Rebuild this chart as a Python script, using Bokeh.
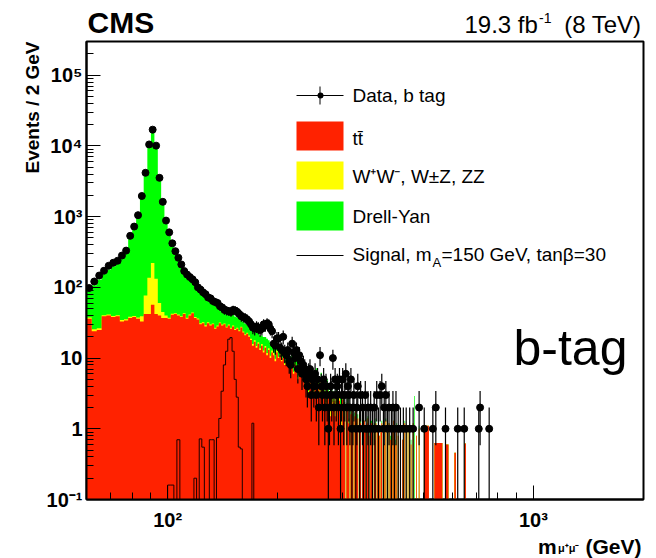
import math
import numpy as np
from bokeh.plotting import figure
from bokeh.layouts import row, column
from bokeh.models import Range1d, FixedTicker, Label, BoxAnnotation, Arrow
from bokeh.embed import file_html
from bokeh.resources import INLINE

# ---------------------------------------------------------------------------
# Dimuon invariant mass, b-tag category: 2 GeV bins starting at 60 GeV
# ---------------------------------------------------------------------------
BIN_W = 2
M_LO = 60
M_HI = 800

# observed events per bin, bins 60-62 ... 298-300 GeV
data_counts = [
    98, 121, 147, 172, 202, 223, 238, 282, 331, 535,
    724, 1050, 1960, 4170, 10500, 17000, 10100, 3540, 1620, 880,
    600, 420, 325, 262, 211, 170, 152, 140, 130, 118,
    100, 93, 85, 80, 72, 70, 64, 62, 60, 54,
    52, 48, 47, 46, 45, 48, 47, 45, 42, 39,
    38, 37, 35, 33, 30, 27, 26, 28, 27, 25,
    26, 30, 29, 31, 30, 26, 24, 16, 15, 19,
    19, 14, 13, 20, 12, 11, 13, 9, 8, 16,
    12, 10, 13, 7, 11, 9, 6, 8, 7, 5,
    4, 6, 7, 3, 5, 4, 6, 3, 5, 2,
    11, 4, 3, 5, 2, 4, 3, 1, 2, 4,
    3, 10, 2, 5, 3, 4, 2, 5, 1, 3,
]

# ttbar expectation, same bins
ttbar = [
    36, 24, 25, 39, 40, 38, 39, 33, 34, 37,
    38, 36, 33, 42, 42, 57, 42, 40, 37, 37,
    36, 41, 42, 40, 38, 42, 36, 40, 43, 37,
    35, 30, 31, 28, 31, 29, 30, 26, 28, 31,
    29, 30, 27, 29, 26, 28, 25, 26, 24, 27,
    23, 21, 22, 20, 18, 15, 17, 14, 16, 13,
    15, 12, 14, 11, 13, 10, 12, 11, 9, 12,
    10, 11, 9, 10, 8, 9, 11, 8, 7, 9,
    6, 8, 7, 5, 8, 6, 7, 5, 4, 6,
    5, 3, 6, 4, 5, 3, 4, 6, 3, 4,
    3, 5, 2, 4, 3, 2, 4, 3, 2, 1.5,
    3, 2, 2.5, 1.5, 3, 2, 1.2, 2.5, 1.8, 1,
]

# WW, WZ, ZZ expectation, same bins
diboson = [
    1.5, 1.5, 1.5, 1.5, 1.5, 1.5, 1.5, 1.5, 1.5, 1.5,
    1.5, 1.5, 6, 35, 95, 165, 90, 20, 8, 3,
    1.2, 1.2, 1.2, 1.2, 1.2, 1.2, 1.2, 1.2, 1.2, 1.2,
    1.2, 1.2, 1.2, 1.2, 1.2, 0.8, 0.8, 0.8, 0.8, 0.8,
    0.8, 0.8, 0.8, 0.8, 0.8, 0.8, 0.8, 0.8, 0.8, 0.8,
    0.8, 0.8, 0.8, 0.8, 0.8, 0.8, 0.8, 0.8, 0.8, 0.8,
    0.8, 0.8, 0.8, 0.8, 0.8, 0.8, 0.8, 0.8, 0.8, 0.8,
    0.4, 0.4, 0.4, 0.4, 0.4, 0.4, 0.4, 0.4, 0.4, 0.4,
    0.4, 0.4, 0.4, 0.4, 0.4, 0.4, 0.4, 0.4, 0.4, 0.4,
    0.4, 0.4, 0.4, 0.4, 0.4, 0.4, 0.4, 0.4, 0.4, 0.4,
    0.4, 0.4, 0.4, 0.4, 0.4, 0.4, 0.4, 0.4, 0.4, 0.4,
    0.4, 0.4, 0.4, 0.4, 0.4, 0.4, 0.4, 0.4, 0.4, 0.4,
]

# Drell-Yan expectation, same bins
drell_yan = [
    62, 82, 103, 114, 138, 160, 180, 225, 284, 461,
    660, 982, 1861, 4023, 10663, 17078, 10168, 3440, 1555, 830,
    553, 378, 277, 214, 166, 125, 111, 92, 78, 72,
    64, 61, 53, 49, 40, 37, 32, 32, 27, 21,
    20, 16, 17, 13, 15, 12, 13, 11, 11, 7,
    9, 9, 7, 8, 8, 9, 7, 8, 6, 7,
    5, 7, 5, 7, 4, 6, 4, 4, 5, 2,
    4, 3, 4, 3, 4, 3, 2, 3, 3, 2,
    3, 2, 2, 3, 1.5, 2, 1.5, 2, 2.5, 1.5,
    1.5, 2, 1, 1.5, 1, 1.5, 1, 0.8, 1.2, 1,
    1, 0.8, 1, 0.7, 0.8, 1, 0.6, 0.7, 0.8, 0.5,
    0.6, 0.7, 0.5, 0.6, 0.4, 0.5, 0.6, 0.3, 0.5, 0.4,
]

# high-mass tail (bin low edge in GeV) - only non-empty bins listed
tail_data_mass = [
    300, 302, 304, 306, 308, 310, 312, 314, 316, 318,
    320, 322, 326, 328, 330, 334, 336, 340, 342, 346,
    348, 352, 354, 358, 362, 366, 368, 372, 376, 380,
    384, 388, 390, 394, 398, 402, 408, 412, 416, 420,
    426, 432, 440, 448, 458, 468, 486, 502, 530, 540,
    574, 620, 646, 708, 714, 756,
]
tail_data_counts = [
    5, 2, 3, 6, 2, 4, 3, 2, 5, 1,
    2, 3, 1, 2, 4, 1, 3, 2, 1, 3,
    1, 2, 1, 2, 1, 2, 1, 3, 1, 3,
    4, 1, 2, 3, 1, 2, 1, 2, 1, 2,
    1, 1, 1, 1, 1, 1, 2, 1, 1, 2,
    1, 1, 1, 1, 2, 1,
]

tail_mc_mass = [
    300, 302, 304, 308, 310, 312, 316, 318, 320, 324,
    326, 328, 330, 334, 336, 340, 342, 344, 346, 350,
    352, 354, 358, 360, 362, 366, 368, 370, 374, 376,
    378, 382, 384, 388, 390, 394, 398, 402, 406, 410,
    414, 418, 422, 426, 432, 438, 444, 450, 456, 462,
    468, 472, 478, 486, 502, 504, 506, 508, 510, 512,
    514, 516, 536, 538, 540, 542, 544, 546, 548, 550,
    552, 554, 556, 558, 560, 562, 576, 578, 580, 582,
    584, 608, 610, 612, 648, 650, 652,
]
tail_ttbar = [
    2.6, 1.5, 2.1, 1.8, 2.3, 1.2, 1.6, 2.0, 1.3, 1.5,
    1.9, 1.0, 1.4, 1.6, 1.2, 1.1, 1.5, 1.3, 0.9, 1.2,
    1.4, 0.8, 1.1, 1.2, 0.9, 1.1, 0.7, 1.2, 0.9, 1.0,
    0.8, 0.9, 1.2, 1.0, 0.6, 1.3, 1.0, 1.2, 0.7, 0.9,
    1.3, 0.6, 1.1, 0.8, 1.3, 0.7, 1.2, 0.9, 1.1, 0.6,
    1.2, 0.0, 0.8, 1.0, 1.1, 1.1, 1.1, 1.1, 1.1, 1.1,
    1.1, 1.1, 0.63, 0.63, 0.63, 0.63, 0.63, 0.63, 0.63, 0.63,
    0.63, 0.63, 0.63, 0.63, 0.63, 0.63, 0.6, 0.6, 0.6, 0.6,
    0.6, 0.46, 0.46, 0.46, 0.62, 0.62, 0.62,
]
tail_dy = [
    0.4, 0.3, 0.3, 0.3, 0.4, 0.2, 0.3, 0.2, 0.3, 0.2,
    0.3, 0.2, 0.2, 0.2, 0.2, 0.3, 0.2, 0.0, 0.2, 0.2,
    0.1, 0.2, 0.2, 0.1, 0.0, 0.1, 0.1, 0.2, 0.1, 0.1,
    0.0, 0.2, 0.1, 0.1, 0.0, 0.1, 0.1, 0.0, 0.1, 0.1,
    0.0, 0.1, 0.1, 0.0, 0.1, 0.0, 0.1, 0.1, 0.0, 0.1,
    0.0, 2.9, 0.0, 0.1, 0.0, 0.0, 0.0, 0.0, 0.0, 0.0,
    0.0, 0.0, 0.0, 0.0, 0.0, 0.0, 0.0, 0.0, 0.0, 0.0,
    0.0, 0.0, 0.0, 0.0, 0.0, 0.0, 0.0, 0.0, 0.0, 0.0,
    0.0, 0.0, 0.0, 0.0, 0.0, 0.0, 0.0,
]

# signal (mA = 150 GeV, tan(beta) = 30), bins from 98 to 174 GeV
signal_first_bin = 98
signal_vals = [
    0, 0.16, 0.16, 0, 0.7, 0, 0, 0, 0, 0,
    0.2, 0, 0.72, 0.55, 0, 0, 0.7, 0.7, 0, 0.75,
    1.4, 3.4, 8, 12.5, 18.5, 19.5, 12.5, 5, 2.8, 0.55,
    0.52, 0, 0, 0, 0, 0, 1.2, 0,
]

x_major_ticks = [100, 1000]
x_tick_labels = ["10²", "10³"]
y_major_ticks = [0.1, 1, 10, 100, 1000, 10000, 100000]
y_tick_labels = ["10⁻¹", "1", "10", "10²", "10³", "10⁴", "10⁵"]

RED, YELLOW, GREEN = "#ff2200", "#ffff00", "#00ff00"
FONT = "Liberation Sans"
FLOOR = 1e-3  # below the visible range, stands in for empty bins on the log axis
MID = 0.35    # distance from baseline to the middle of the em box, in font sizes

# ---------------------------------------------------------------------------
n_bins = (M_HI - M_LO) // BIN_W
lows = M_LO + BIN_W * np.arange(n_bins)
edges = np.append(lows, M_HI)


def dense(main, tail_mass=(), tail_vals=()):
    out = np.zeros(n_bins)
    out[:len(main)] = main
    for m, v in zip(tail_mass, tail_vals):
        out[(m - M_LO) // BIN_W] = v
    return out


def step_y(v):
    y = np.where(np.asarray(v) > 0, v, FLOOR)
    return np.append(y, y[-1])


tt = dense(ttbar, tail_mc_mass, tail_ttbar)
vv = dense(diboson)
dy = dense(drell_yan, tail_mc_mass, tail_dy)
obs = dense(data_counts, tail_data_mass, tail_data_counts)

# page geometry (pixels): left strip, header strip, main plot, footer strip
W, H = 656, 558
LEFT_W = 43
TOP_H = 39
BOT_H = 22
MAIN_W = W - LEFT_W
MAIN_H = H - TOP_H - BOT_H
FL, FR, FT, FB = 83, 643, 41, 499  # frame edges in page pixels

p = figure(width=MAIN_W, height=MAIN_H, x_axis_type="log", y_axis_type="log",
           x_range=Range1d(60, 2000), y_range=Range1d(0.1, 3e5),
           output_backend="svg", toolbar_location=None, title=None,
           min_border_left=FL - LEFT_W, min_border_right=W - FR,
           min_border_top=FT - TOP_H, min_border_bottom=TOP_H + MAIN_H - FB)
p.background_fill_color = "white"
p.border_fill_color = "white"
p.outline_line_color = "black"
p.outline_line_width = 2
p.xgrid.visible = False
p.ygrid.visible = False

# stacked backgrounds, drawn back to front as cumulative sums
p.varea_step(x=edges, y1=FLOOR, y2=step_y(tt + vv + dy), step_mode="after", fill_color=GREEN)
p.varea_step(x=edges, y1=FLOOR, y2=step_y(tt + vv), step_mode="after", fill_color=YELLOW)
p.varea_step(x=edges, y1=FLOOR, y2=step_y(tt), step_mode="after", fill_color=RED)

# signal outline
sig = np.array(signal_vals, dtype=float)
sig_edges = signal_first_bin + BIN_W * np.arange(len(sig) + 1)
p.step(x=sig_edges, y=step_y(sig), mode="after", line_color="#1a0000", line_width=1)

# data with Poisson error bars
mask = obs > 0
xc = lows[mask] + BIN_W / 2
n = obs[mask]
err = np.sqrt(n)
p.segment(x0=xc, y0=np.maximum(n - err, FLOOR), x1=xc, y1=n + err, line_color="black", line_width=1.2)
p.segment(x0=xc - BIN_W / 2, y0=n, x1=xc + BIN_W / 2, y1=n, line_color="black", line_width=1.2)
p.scatter(x=xc, y=n, size=7, fill_color="black", line_color="black")

# axes
x_minor = [k * 10 ** d for d in (1, 2, 3) for k in range(2, 10) if 60 <= k * 10 ** d <= 2000]
y_minor = [k * 10.0 ** d for d in range(-1, 6) for k in range(2, 10) if k * 10.0 ** d <= 3e5]
p.xaxis[0].ticker = FixedTicker(ticks=x_major_ticks, minor_ticks=x_minor)
p.yaxis[0].ticker = FixedTicker(ticks=y_major_ticks, minor_ticks=y_minor)
p.xaxis[0].major_label_overrides = dict(zip(x_major_ticks, x_tick_labels))
p.yaxis[0].major_label_overrides = dict(zip(y_major_ticks, y_tick_labels))
for ax in (p.xaxis[0], p.yaxis[0]):
    ax.major_tick_in = 14
    ax.major_tick_out = 0
    ax.minor_tick_in = 7
    ax.minor_tick_out = 0
    ax.major_tick_line_color = "black"
    ax.minor_tick_line_color = "black"
    ax.axis_line_color = "black"
    ax.axis_line_width = 2
    ax.major_label_text_font = FONT
    ax.major_label_text_font_style = "bold"
    ax.major_label_text_font_size = "20px"
    ax.major_label_text_color = "black"
p.yaxis[0].major_label_standoff = 4
p.xaxis[0].major_label_standoff = 9


def text(t, x, y, size, style="normal", align="left"):
    """Text inside the plot frame; (x, y) = page pixel of the start of its baseline."""
    p.add_layout(Label(x=x - FL, y=FB - (y - MID * size), x_units="screen", y_units="screen",
                       text=t, text_font=FONT, text_font_size=f"{size}px",
                       text_font_style=style, text_align=align, text_baseline="middle",
                       text_color="black"))


def box(l, t, r, b, color, radius=0):
    p.add_layout(BoxAnnotation(left=l - FL, right=r - FL, top=FB - t, bottom=FB - b,
                               left_units="screen", right_units="screen",
                               top_units="screen", bottom_units="screen",
                               fill_color=color, fill_alpha=1.0, line_color=None,
                               border_radius=radius))


def seg(x0, y0, x1, y1):
    p.add_layout(Arrow(x_start=x0 - FL, y_start=FB - y0, x_end=x1 - FL, y_end=FB - y1,
                       start_units="screen", end_units="screen", end=None,
                       line_color="black", line_width=1))


def strip(width, height, x_lo, x_hi, border_left, border_right, y_top):
    """Bare canvas for text outside the frame; data units are page pixels
    (x across the frame's span x_lo..x_hi, y measured down from page y_top)."""
    s = figure(width=width, height=height,
               x_range=Range1d(x_lo, x_hi), y_range=Range1d(y_top + height, y_top),
               output_backend="svg", toolbar_location=None, title=None,
               x_axis_location=None, y_axis_location=None,
               min_border=0, min_border_left=border_left, min_border_right=border_right,
               min_border_top=0, min_border_bottom=0)
    s.outline_line_color = None
    s.background_fill_color = "white"
    s.border_fill_color = "white"
    s.xgrid.visible = False
    s.ygrid.visible = False
    return s


def strip_text(s, t, x, y, size, style="normal", align="left", vertical=False):
    """(x, y) = page pixel of the text baseline start (or end, when right aligned)."""
    if vertical:
        lx, ly, angle = x - MID * size, y, math.pi / 2
    else:
        lx, ly, angle = x, y - MID * size, 0.0
    s.add_layout(Label(x=lx, y=ly, text=t,
                       text_font=FONT, text_font_size=f"{size}px", text_font_style=style,
                       text_align=align, text_baseline="middle", angle=angle,
                       text_color="black"))


left = strip(LEFT_W, H, 0, LEFT_W, 0, 0, 0)
top = strip(MAIN_W, TOP_H, FL, FR, FL - LEFT_W, W - FR, 0)
bottom = strip(MAIN_W, BOT_H, FL, FR, FL - LEFT_W, W - FR, TOP_H + MAIN_H)

# header
strip_text(top, "CMS", 84, 32, 30, "bold")
strip_text(top, "19.3 fb", 463, 32, 24)
strip_text(top, "-1", 538, 22, 14)
strip_text(top, "(8 TeV)", 641, 32, 24, align="right")

# axis titles
strip_text(left, "Events / 2 GeV", 39, 41, 19, "bold", align="right", vertical=True)
strip_text(bottom, "m", 537, 553, 21, "bold")
strip_text(bottom, "μ⁺μ⁻", 557, 551, 11, "bold")
strip_text(bottom, "(GeV)", 641, 553, 21, "bold", align="right")

# category tag
text("b-tag", 510, 365, 50)

# legend
seg(293, 95, 340, 95)
seg(316.5, 86, 316.5, 104)
box(314, 92, 320, 98, "black", radius=3)
text("Data, b tag", 349, 102, 19)
box(293, 121, 340, 150, RED)
text("tt\u0304", 349, 145, 19)
box(293, 161, 340, 189, YELLOW)
text("W⁺W⁻, W±Z, ZZ", 349, 183, 19)
box(293, 201, 340, 230, GREEN)
text("Drell-Yan", 349, 223, 19)
seg(293, 255, 340, 255)
text("Signal, m", 349, 261, 19)
text("A", 429, 267, 13)
text("=150 GeV, tanβ=30", 438, 261, 19)

page = row(left, column(top, p, bottom, spacing=0), spacing=0)
open("out.html", "w").write(file_html(page, INLINE))
